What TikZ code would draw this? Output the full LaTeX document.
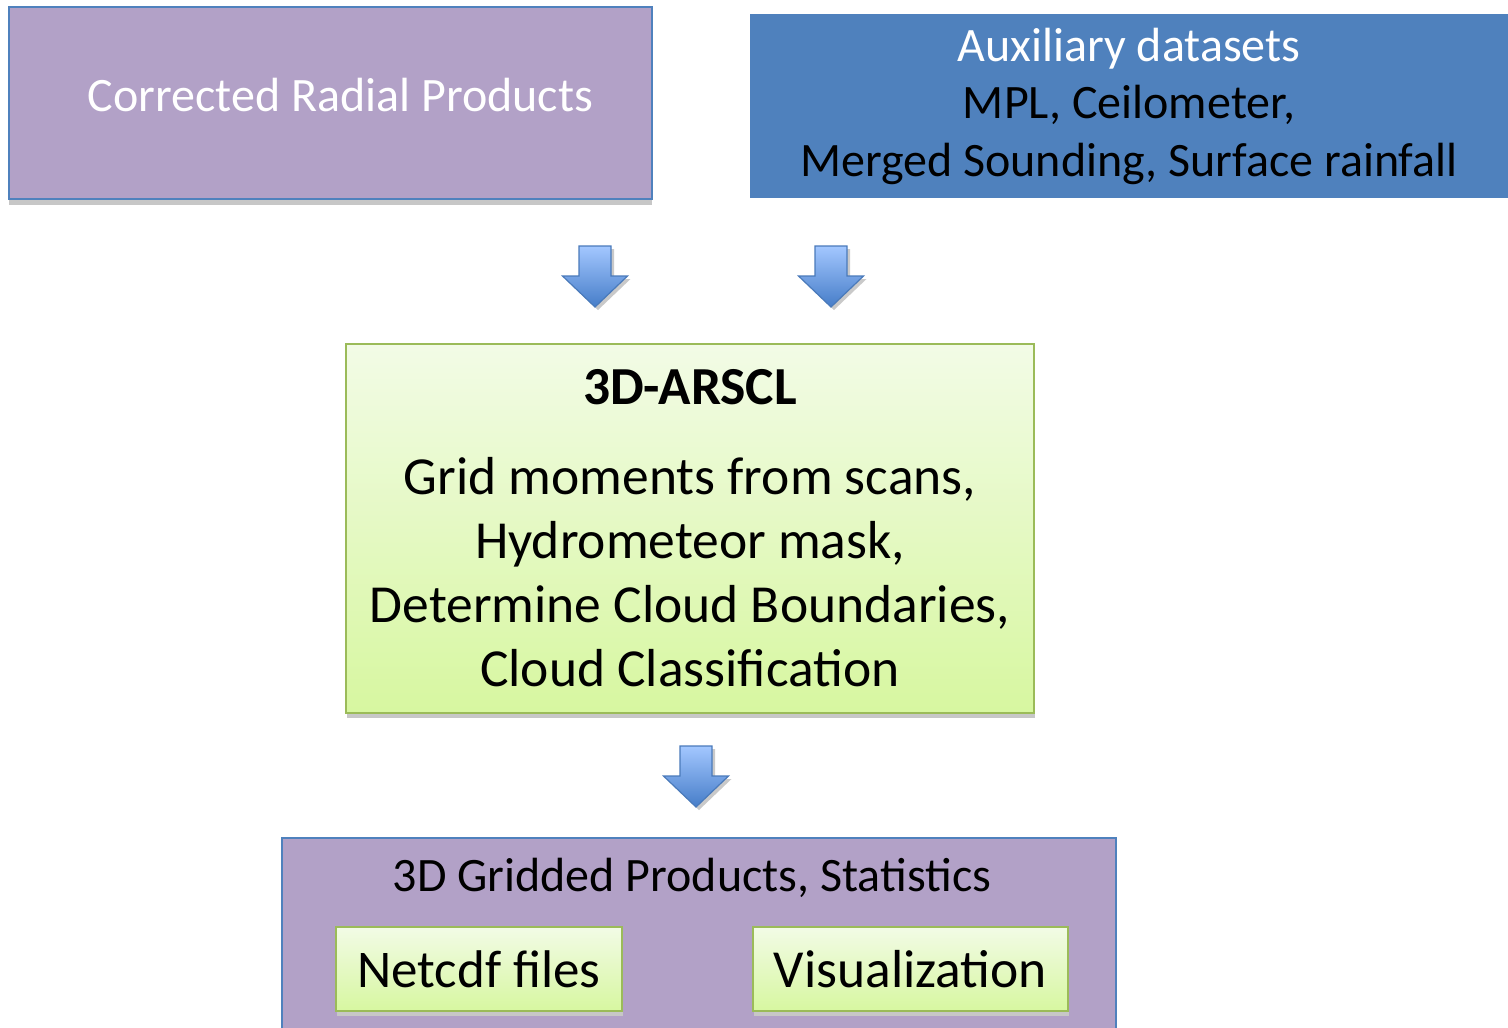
\documentclass[tikz,border=0pt]{standalone}
\usepackage{fontspec}
\setmainfont{Carlito}
\usetikzlibrary{positioning,shadows}

\definecolor{lilac}{RGB}{178,161,199}
\definecolor{steel}{RGB}{79,129,189}
\definecolor{leaf}{RGB}{155,187,89}
\definecolor{greentop}{RGB}{242,251,230}
\definecolor{greenbot}{RGB}{215,247,160}
\definecolor{arrowtop}{RGB}{163,199,255}
\definecolor{arrowbot}{RGB}{70,125,200}
\definecolor{arrowline}{RGB}{74,122,186}

\begin{document}
\begin{tikzpicture}[x=1pt, y=-1pt,
  every node/.style={inner sep=0pt, outer sep=0pt},
  lilac box/.style={draw=steel, line width=1.5pt, fill=lilac, anchor=north west},
  green box/.style={draw=leaf, line width=1.5pt, top color=greentop, bottom color=greenbot,
    anchor=north west, drop shadow={shadow xshift=1pt, shadow yshift=-5pt, fill=black!22, opacity=1}},
  block arrow/.style={draw=arrowline, line width=1.2pt, top color=arrowtop, bottom color=arrowbot,
    drop shadow={shadow xshift=3pt, shadow yshift=-3pt, fill=black!30, opacity=0.7}}]

\useasboundingbox (0,0) rectangle (1508,1028);

% inputs
\node [lilac box, minimum width=643, minimum height=192,
  drop shadow={shadow xshift=0pt, shadow yshift=-6pt, fill=black!22, opacity=1}] (radial) at (9,7) {};
\node [white, font=\fontsize{48}{58}\selectfont] (radial-text) at ([xshift=10pt, yshift=8pt]radial.center) {Corrected Radial Products};

\node [fill=steel, anchor=north west, minimum width=758, minimum height=184, align=center,
  font=\fontsize{48}{57.5}\selectfont] (aux) at (750,14)
  {\textcolor{white}{Auxiliary datasets}\\ MPL, Ceilometer,\\ Merged Sounding, Surface rainfall};

% processing
\node [green box, minimum width=688, minimum height=369, align=center,
  font=\fontsize{53.5}{64}\selectfont] (arscl) at (346,344)
  {\textbf{3D-ARSCL}\\[26pt] Grid moments from scans,\\ Hydrometeor mask,\\ Determine Cloud Boundaries,\\ Cloud Classification};

% outputs
\node [lilac box, minimum width=834, minimum height=210] (products) at (282,838) {};
\node [font=\fontsize{48}{58}\selectfont] (products-text) at (692,878) {3D Gridded Products, Statistics};

\node [green box, minimum width=286, minimum height=84, font=\fontsize{53}{64}\selectfont] (netcdf) at (336,927) {Netcdf files};
\node [green box, minimum width=315, minimum height=84, font=\fontsize{53.5}{64}\selectfont] (visual) at (753,927) {Visualization};

% arrows
\foreach \x/\y in {595/246, 831/246, 696/746}
  \draw [block arrow] (\x-16,\y) -- ++(32,0) -- ++(0,30) -- ++(16.5,0)
    -- (\x,\y+61) -- ++(-32.5,-31) -- ++(16.5,0) -- cycle;

\end{tikzpicture}
\end{document}
